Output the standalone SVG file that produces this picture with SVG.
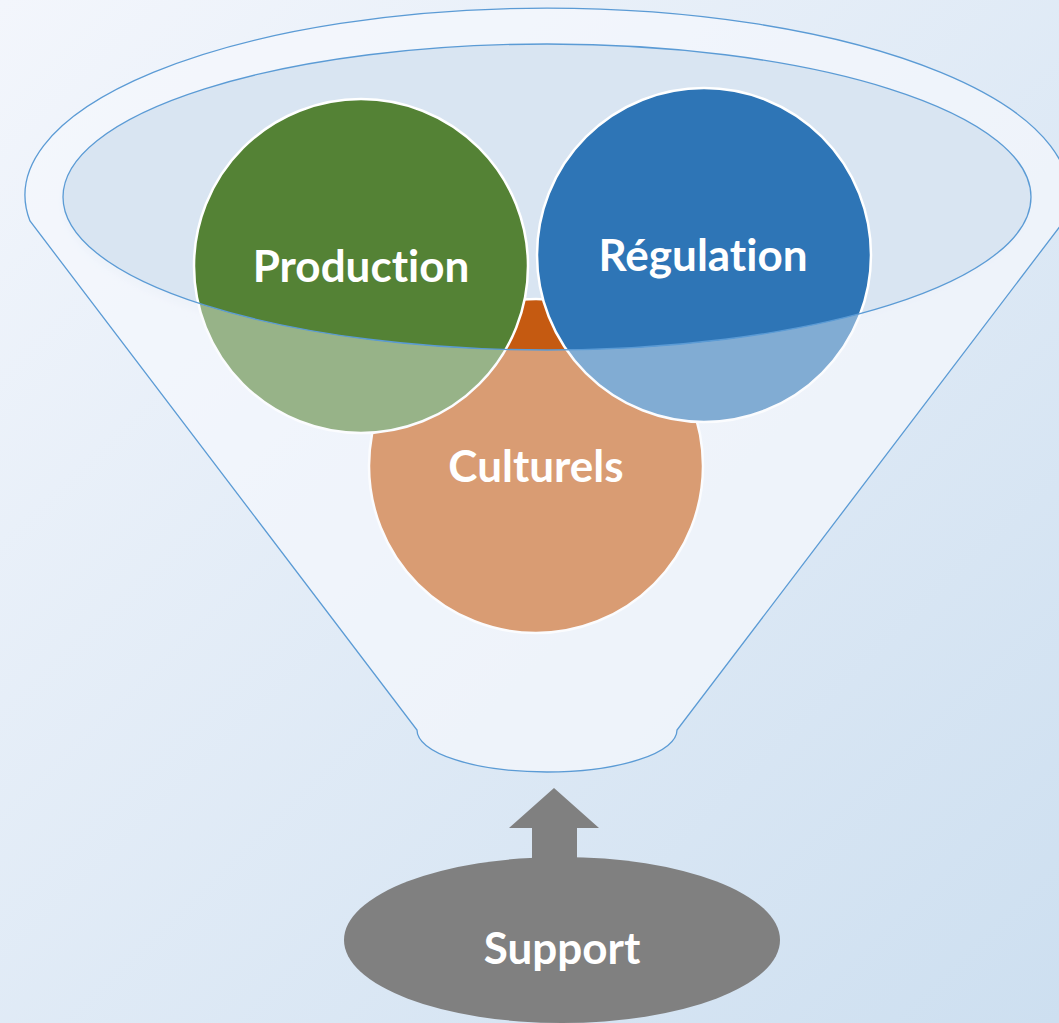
<svg xmlns="http://www.w3.org/2000/svg" width="1059" height="1023" viewBox="0 0 1059 1023">
<style>
.lbl{font-family:Lato,"Open Sans","Liberation Sans",sans-serif;font-weight:bold;font-size:44px;fill:#ffffff;text-anchor:middle;font-variant-ligatures:none;font-feature-settings:"liga" 0}
.circ{stroke:#ffffff;stroke-width:2.5}
.edge{fill:none;stroke:#5b9bd5;stroke-width:1.3}
</style>
<defs>
<linearGradient id="bg" x1="0" y1="0" x2="1" y2="1">
<stop offset="0" stop-color="#f3f6fc"/>
<stop offset="1" stop-color="#cddff0"/>
</linearGradient>
<filter id="soft" x="-10%" y="-10%" width="120%" height="130%">
<feGaussianBlur stdDeviation="4"/>
</filter>
</defs>
<rect width="1059" height="1023" fill="url(#bg)"/>
<g id="funnel">
<path d="M 30 221 A 522 187 0 1 1 1064 221 L 677 730 A 130 42 0 0 1 417 730 Z" fill="#f5f8fd" fill-opacity="0.5"/>
<ellipse cx="547" cy="203" rx="484" ry="153" fill="#e6edf7" filter="url(#soft)"/>
<ellipse cx="547" cy="197" rx="484" ry="153" fill="#d9e5f2"/>
</g>
<g id="culturels">
<circle class="circ" cx="536" cy="466" r="167" fill="#c55a11"/>
</g>
<g id="production">
<circle class="circ" cx="361" cy="266" r="167" fill="#548235"/>
</g>
<g id="regulation">
<circle class="circ" cx="704" cy="255" r="167" fill="#2e75b6"/>
</g>
<g id="funnel-overlay">
<path d="M 30 221 A 522 187 0 1 1 1064 221 L 677 730 A 130 42 0 0 1 417 730 Z M 63 197 A 484 153 0 1 0 1031 197 A 484 153 0 1 0 63 197 Z" fill="#f6f9fd" fill-opacity="0.42" fill-rule="evenodd"/>
<path class="edge" d="M 30 221 A 522 187 0 1 1 1064 221 L 677 730 A 130 42 0 0 1 417 730 Z"/>
<ellipse class="edge" cx="547" cy="197" rx="484" ry="153"/>
</g>
<g id="labels">
<text class="lbl" x="361" y="282">Production</text>
<text class="lbl" x="703" y="271">Régulation</text>
<text class="lbl" x="536" y="482">Culturels</text>
</g>
<g id="connectors">
<path d="M 554 788 L 599 828 L 577 828 L 577 862 L 532 862 L 532 828 L 509 828 Z" fill="#808080"/>
</g>
<g id="support">
<ellipse cx="562" cy="940" rx="218" ry="83" fill="#808080"/>
<text class="lbl" x="562" y="964">Support</text>
</g>
</svg>
